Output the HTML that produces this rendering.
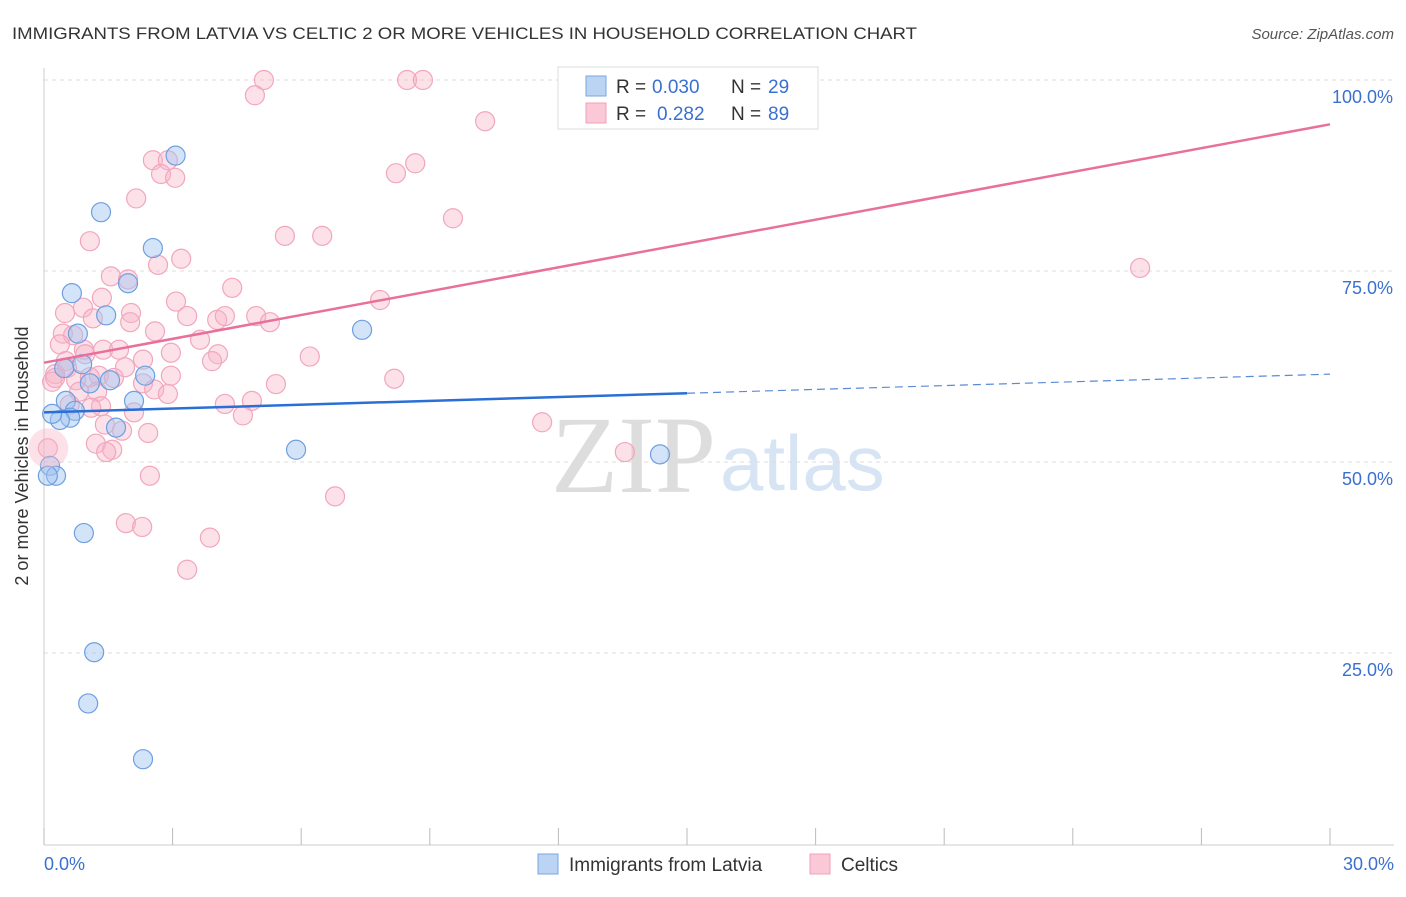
<!DOCTYPE html>
<html><head><meta charset="utf-8"><style>
body{margin:0;background:#fff;font-family:"Liberation Sans",sans-serif;}
</style></head><body>
<svg width="1406" height="892" xmlns="http://www.w3.org/2000/svg">
<text x="12" y="39" font-size="17" fill="#333" textLength="905" lengthAdjust="spacingAndGlyphs">IMMIGRANTS FROM LATVIA VS CELTIC 2 OR MORE VEHICLES IN HOUSEHOLD CORRELATION CHART</text>
<text x="1394" y="39" font-size="15" fill="#555" font-style="italic" text-anchor="end">Source: ZipAtlas.com</text>
<text x="716" y="492" font-size="110" fill="#ddd" text-anchor="end" font-family="Liberation Serif">ZIP</text>
<text x="720" y="490" font-size="78" fill="#d6e4f4">atlas</text>
<g id="grid"></g>
<line x1="44" y1="68" x2="44" y2="845" stroke="#ccc"/>
<line x1="44" y1="845" x2="1394" y2="845" stroke="#ccc"/>
<g id="xt"></g>
<text x="28" y="456" font-size="18" fill="#333" text-anchor="middle" transform="rotate(-90 28 456)">2 or more Vehicles in Household</text>
<text x="44" y="870" font-size="18" fill="#3a70d0">0.0%</text>
<text x="1394" y="870" font-size="18" fill="#3a70d0" text-anchor="end">30.0%</text>
<g id="pts"></g>
<g id="lines"></g>
<g>
<rect x="558" y="67" width="260" height="62" fill="#fff" stroke="#ddd"/>
<rect x="586" y="76" width="20" height="20" fill="#bcd4f4" stroke="#7aa6e0"/>
<rect x="586" y="103" width="20" height="20" fill="#fac8d6" stroke="#f0a0b8"/>
<text x="616" y="93" font-size="19" fill="#333">R =</text>
<text x="652" y="93" font-size="19" fill="#3a70d0">0.030</text>
<text x="731" y="93" font-size="19" fill="#333">N =</text>
<text x="768" y="93" font-size="19" fill="#3a70d0">29</text>
<text x="616" y="120" font-size="19" fill="#333">R =</text>
<text x="657" y="120" font-size="19" fill="#3a70d0">0.282</text>
<text x="731" y="120" font-size="19" fill="#333">N =</text>
<text x="768" y="120" font-size="19" fill="#3a70d0">89</text>
</g>
<g>
<rect x="538" y="854" width="20" height="20" fill="#bcd4f4" stroke="#7aa6e0"/>
<text x="569" y="871" font-size="19" fill="#333">Immigrants from Latvia</text>
<rect x="810" y="854" width="20" height="20" fill="#fac8d6" stroke="#f0a0b8"/>
<text x="841" y="871" font-size="19" fill="#333">Celtics</text>
</g>
</svg>
<script>
const yTicks=[25,50,75,100];
const xTicks=[0,3,6,9,12,15,18,21,24,27,30];
const blueX=[3.07,1.33,2.54,0.65,1.96,1.45,0.79,7.42,0.89,1.54,1.07,2.36,0.51,2.1,0.72,0.61,0.37,1.68,5.88,14.37,0.19,0.14,0.28,0.93,1.17,1.03,2.31,0.47,0.09];
const blueY=[90.1,82.7,78.0,72.1,73.4,69.2,66.8,67.3,62.8,60.7,60.3,61.3,58.0,58.0,56.7,55.8,55.5,54.5,51.6,51.0,56.3,49.5,48.2,40.7,25.1,18.4,11.1,62.3,48.2];
const pinkX=[5.13,8.47,8.84,4.92,10.29,2.54,2.89,2.73,3.06,8.66,8.21,2.15,9.54,1.07,5.62,6.49,3.2,2.66,1.56,1.96,25.57,4.39,7.84,1.35,3.08,0.91,0.49,1.14,2.03,3.34,4.04,4.22,4.95,5.27,0.44,2.01,2.59,0.68,3.64,0.37,0.93,1.38,1.75,0.96,4.06,2.31,2.96,3.92,0.51,0.26,1.89,0.54,1.28,1.63,2.31,2.96,2.57,2.89,0.75,1.07,0.19,0.26,0.82,1.24,5.41,8.17,4.22,4.85,4.64,1.33,1.1,1.42,1.82,2.43,11.62,13.55,1.21,1.59,1.45,2.47,6.79,1.91,2.29,3.87,3.34,0.09,0.6,2.1,6.2];
const pinkY=[100,100,100,98,94.6,89.5,89.5,87.7,87.2,89.1,87.8,84.5,81.9,78.9,79.6,79.6,76.6,75.8,74.3,73.9,75.4,72.8,71.2,71.5,71,70.2,69.5,68.8,69.5,69.1,68.6,69.1,69.1,68.3,66.8,68.3,67.1,66.6,66,65.4,64.7,64.7,64.7,64.1,64.1,63.4,64.3,63.2,63.2,61.5,62.4,62.3,61.3,61,60.3,61.3,59.5,58.9,60.7,61.1,60.5,61,59.2,59.2,60.2,60.9,57.6,58,56.1,57.3,57.1,54.9,54.1,53.8,55.2,51.3,52.4,51.6,51.3,48.2,45.5,42,41.5,40.1,35.9,51.8,57.5,56.5,63.8];
const blueFit=[56.5,61.5], pinkFit=[63.0,94.2];
const X=v=>44+v/30*1286, Y=v=>844-v/100*764;
const NS='http://www.w3.org/2000/svg';
function mk(t,a,p){const e=document.createElementNS(NS,t);for(const k in a)e.setAttribute(k,a[k]);p.appendChild(e);return e;}
const grid=document.getElementById('grid');
yTicks.forEach(t=>{
 const l=mk('line',{x1:44,x2:1394,y1:Y(t),y2:Y(t),stroke:'#ddd','stroke-dasharray':'4 4'},grid);
 
 
 const tx=mk('text',{x:1393,y:Y(t)+23,'font-size':18,fill:'#3a70d0','text-anchor':'end'},grid);
 tx.textContent=t.toFixed(1)+'%';
 
 
});
const xt=document.getElementById('xt');
xTicks.forEach(t=>{
 const l=mk('line',{x1:X(t),x2:X(t),y1:828,y2:845,stroke:'#bbb'},xt);
 
 
});
const pts=document.getElementById('pts');
pinkX.forEach((x,i)=>{
 const c=mk('circle',{cx:X(x),cy:Y(pinkY[i]),r:9.5,fill:'rgba(248,180,200,0.4)',stroke:'#f2a6bd','stroke-width':1.2},pts);
 
 
});
blueX.forEach((x,i)=>{
 const c=mk('circle',{cx:X(x),cy:Y(blueY[i]),r:9.5,fill:'rgba(160,196,240,0.45)',stroke:'#6f9fe0','stroke-width':1.2},pts);
 
 
});
const big=mk('circle',{cx:X(0.1),cy:Y(51.8),r:20,fill:'rgba(248,180,200,0.4)',stroke:'none'},pts);


const ln=document.getElementById('lines');
const bm=blueFit[0]+(blueFit[1]-blueFit[0])*15/30;
let a=mk('line',{x1:X(0),y1:Y(blueFit[0]),x2:X(15),y2:Y(bm),stroke:'#2a6fd6','stroke-width':2.5},ln);


a=mk('line',{x1:X(15),y1:Y(bm),x2:X(30),y2:Y(blueFit[1]),stroke:'#5a8ad8','stroke-width':1.2,'stroke-dasharray':'8 5'},ln);


a=mk('line',{x1:X(0),y1:Y(pinkFit[0]),x2:X(30),y2:Y(pinkFit[1]),stroke:'#e8709a','stroke-width':2.5},ln);


</script>
</body></html>
